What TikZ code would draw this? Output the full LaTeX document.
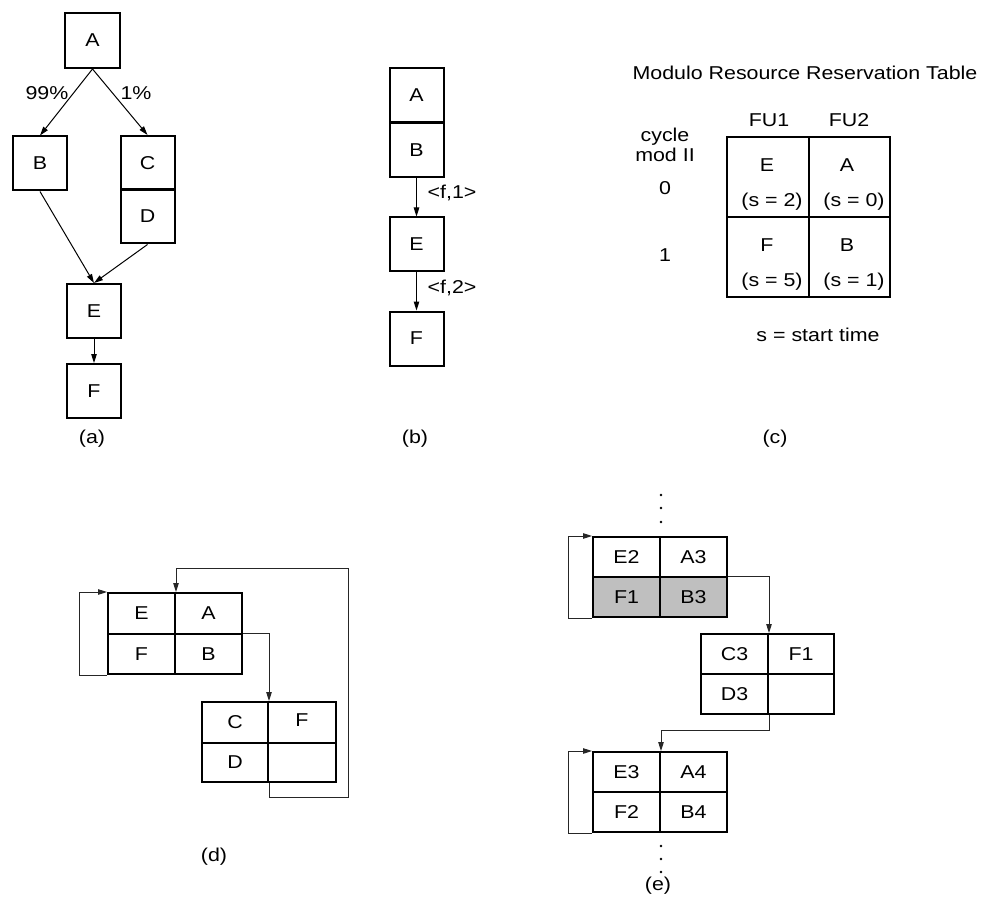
\documentclass[tikz,border=0pt]{standalone}
\usepackage{fontspec}
\setmainfont{Liberation Sans}[FakeStretch=1.15]
\usetikzlibrary{arrows.meta}
\newcommand\mytxt{\fontsize{18.6}{20}\selectfont}
\tikzset{
  box/.style={draw, line width=2pt, minimum width=54, minimum height=54, inner sep=0pt},
  cell/.style={draw, line width=2pt, minimum width=67, minimum height=40, inner sep=0pt},
  bigcell/.style={draw, line width=2pt, minimum width=82, minimum height=80, inner sep=0pt},
  txt/.style={inner sep=0pt},
  arr/.style={line width=1pt, -{Triangle[length=9pt,width=5.5pt]}},
  conn/.style={line width=1pt, draw=black!85, -{Triangle[length=9pt,width=5.5pt]}},
  grayfill/.style={fill=black!25},
  dot/.style={circle, fill=black, inner sep=0pt, minimum size=2.6pt}
}
\begin{document}
\begin{tikzpicture}[x=1pt,y=-1pt,font=\mytxt]
\useasboundingbox (0,0) rectangle (983,904);
% ---------- (a) ----------
\node[box, minimum width=55, minimum height=55] (aA) at (92.5,40.5) {A};
\node[box] (aB) at (40,163.5) {B};
\node[box] (aC) at (147.5,163) {C};
\node[box] (aD) at (147.5,216.5) {D};
\node[box] (aE) at (94,311) {E};
\node[box] (aF) at (94,391) {F};
\draw[arr] (aA.south) -- (aB.north);
\draw[arr] (aA.south) -- (aC.north);
\draw[arr] (aB.south) -- (aE.north);
\draw[arr] (aD.south) -- (aE.north);
\draw[arr] (aE.south) -- (aF.north);
\node[txt] (l99) at (47,93) {99\%};
\node[txt] (l1) at (136,93) {1\%};
\node[txt] (capa) at (92,439) {(a)};
% ---------- (b) ----------
\node[box] (bA) at (416.5,95.5) {A};
\node[box] (bB) at (416.5,150) {B};
\node[box] (bE) at (416.5,244.5) {E};
\node[box] (bF) at (416.5,338.5) {F};
\draw[arr] (bB.south) -- (bE.north);
\draw[arr] (bE.south) -- (bF.north);
\node[txt] (lf1) at (452,193) {<f,1>};
\node[txt] (lf2) at (452,288) {<f,2>};
\node[txt] (capb) at (415,439) {(b)};
% ---------- (c) ----------
\node[txt] (ctitle) at (805,73) {Modulo Resource Reservation Table};
\node[txt] (cfu1) at (769,120) {FU1};
\node[txt] (cfu2) at (849,120) {FU2};
\node[txt, align=center] (ccyc) at (665,145) {cycle\\mod II};
\node[txt] (c0) at (665,188) {0};
\node[txt] (c1) at (665,255) {1};
\node[bigcell] (cE) at (768,177) {};
\node[bigcell, minimum width=81] (cA) at (849.5,177) {};
\node[bigcell] (cF) at (768,257) {};
\node[bigcell, minimum width=81] (cB) at (849.5,257) {};
\node[txt] (tE) at (767,165) {E};
\node[txt] (tsE) at (772,202) {(s = 2)};
\node[txt] (tA) at (847,165) {A};
\node[txt] (tsA) at (854,202) {(s = 0)};
\node[txt] (tF) at (767,245) {F};
\node[txt] (tsF) at (772,282) {(s = 5)};
\node[txt] (tB) at (847,245) {B};
\node[txt] (tsB) at (854,282) {(s = 1)};
\node[txt] (cst) at (818,335) {s = start time};
\node[txt] (capc) at (775,439) {(c)};
% ---------- (d) ----------
\node[cell, minimum height=41] (dE) at (141.5,613.5) {E};
\node[cell, minimum height=41] (dA) at (208.5,613.5) {A};
\node[cell] (dF) at (141.5,654) {F};
\node[cell] (dB) at (208.5,654) {B};
\node[cell, minimum width=66, minimum height=41] (dC) at (235,722.5) {C};
\node[cell, minimum width=68, minimum height=41] (dF2) at (302,722.5) {};
\node[txt] (dF2t) at (302,720) {F};
\node[cell, minimum width=66, minimum height=39] (dD) at (235,762.5) {D};
\node[cell, minimum width=68, minimum height=39] (dX) at (302,762.5) {};
\draw[conn] (dF.south west) -- ++(-28,0) |- (dE.north west);
\draw[conn] (dB.north east) -| (dC.north east);
\coordinate (dR) at (348,797);
\coordinate (dT) at (348,568);
\draw[conn] (dD.south east) |- (dR) -- (dT) -| (dE.north east);
\node[txt] (capd) at (214,857) {(d)};
% ---------- (e) ----------
\node[dot] (et1) at (661,495) {};
\node[dot] (et2) at (661,508) {};
\node[dot] (et3) at (661,522) {};
\node[cell] (eE2) at (626.5,557) {E2};
\node[cell] (eA3) at (693.5,557) {A3};
\node[cell, grayfill] (eF1) at (626.5,597) {F1};
\node[cell, grayfill] (eB3) at (693.5,597) {B3};
\node[cell, minimum width=67] (eC3) at (734.5,654) {C3};
\node[cell, minimum width=66] (eF1b) at (801,654) {F1};
\node[cell, minimum width=67] (eD3) at (734.5,694) {D3};
\node[cell, minimum width=66] (eY) at (801,694) {};
\node[cell] (eE3) at (626.5,772) {E3};
\node[cell] (eA4) at (693.5,772) {A4};
\node[cell] (eF2) at (626.5,812) {F2};
\node[cell] (eB4) at (693.5,812) {B4};
\draw[conn] (eF1.south west) -- ++(-24,0) |- (eE2.north west);
\draw[conn] (eB3.north east) -| (eC3.north east);
\draw[conn] (eD3.south east) -- ++(0,15) -| (eE3.north east);
\draw[conn] (eF2.south west) -- ++(-24,0) |- (eE3.north west);
\node[dot] (eb1) at (661,846) {};
\node[dot] (eb2) at (661,859) {};
\node[dot] (eb3) at (661,872) {};
\node[txt] (cape) at (658,886) {(e)};
\end{tikzpicture}
\end{document}
